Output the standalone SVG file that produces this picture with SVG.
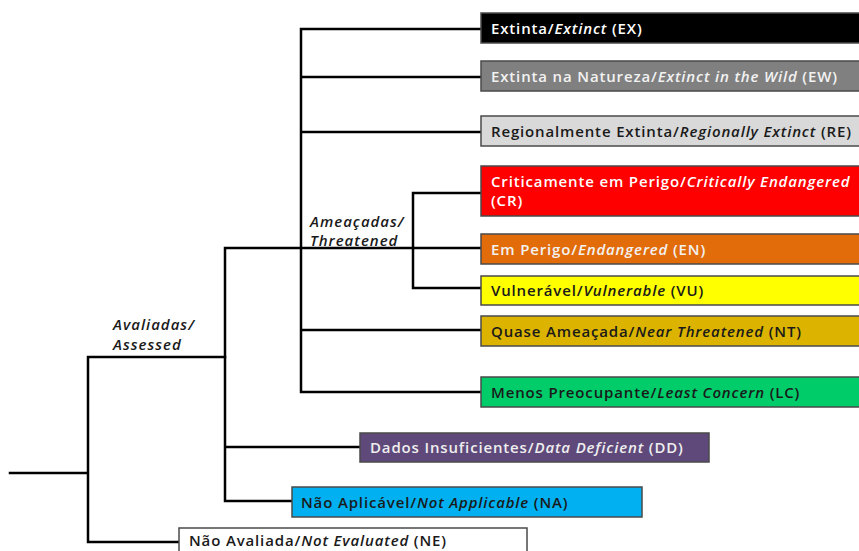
<svg xmlns="http://www.w3.org/2000/svg" width="859" height="551" viewBox="0 0 859 551">
<style>
  .ln { fill: none; stroke: #000; stroke-width: 2.5; stroke-linecap: square; }
  .box { stroke: #4a4a4a; stroke-width: 1.5; }
  .t { font-family: "Open Sans", "Liberation Sans", sans-serif; font-size: 15px; font-weight: 600; letter-spacing: 0.85px; }
  .i { font-style: italic; }
  .lbl { font-family: "Open Sans", "Liberation Sans", sans-serif; font-size: 15px; font-weight: 600; font-style: italic; letter-spacing: 1px; fill: #1a1a1a; }
</style>
<rect width="859" height="551" fill="#fff"/>
<g id="connectors">
  <path class="ln" d="M10,473 H88 M88,357 V542 M88,357 H225 M88,542 H179"/>
  <path class="ln" d="M225,248 V501 M225,248 H413 M225,447 H360 M225,501 H292"/>
  <path class="ln" d="M301,29 V392 M301,29 H481 M301,77 H481 M301,132 H481 M301,330 H481 M301,392 H481"/>
  <path class="ln" d="M413,193 V288 M413,193 H481 M413,248 H481 M413,288 H481"/>
</g>
<g id="label-threatened">
  <text class="lbl" x="310" y="227">Ameaçadas/</text>
  <text class="lbl" x="310" y="246">Threatened</text>
</g>
<g id="label-assessed">
  <text class="lbl" x="113" y="330">Avaliadas/</text>
  <text class="lbl" x="113" y="350">Assessed</text>
</g>
<g id="EX">
  <rect class="box" x="481" y="13" width="400" height="30" fill="#000"/>
  <text class="t" x="491" y="34" fill="#fff">Extinta/<tspan class="i">Extinct</tspan> (EX)</text>
</g>
<g id="EW">
  <rect class="box" x="481" y="61" width="400" height="30" fill="#808080"/>
  <text class="t" x="491" y="82" fill="#f2f2f2">Extinta na Natureza/<tspan class="i">Extinct in the Wild</tspan> (EW)</text>
</g>
<g id="RE">
  <rect class="box" x="481" y="116" width="400" height="30" fill="#d9d9d9"/>
  <text class="t" x="491" y="137" fill="#1a1a1a">Regionalmente Extinta/<tspan class="i">Regionally Extinct</tspan> (RE)</text>
</g>
<g id="CR">
  <rect class="box" x="481" y="166" width="400" height="50" fill="#ff0000"/>
  <text class="t" x="491" y="187" fill="#fff">Criticamente em Perigo/<tspan class="i">Critically Endangered</tspan></text>
  <text class="t" x="491" y="206" fill="#fff">(CR)</text>
</g>
<g id="EN">
  <rect class="box" x="481" y="234" width="400" height="30" fill="#e36c0a"/>
  <text class="t" x="491" y="255" fill="#f2f2f2">Em Perigo/<tspan class="i">Endangered</tspan> (EN)</text>
</g>
<g id="VU">
  <rect class="box" x="481" y="276" width="400" height="29" fill="#ffff00"/>
  <text class="t" x="491" y="296" fill="#1a1a1a">Vulnerável/<tspan class="i">Vulnerable</tspan> (VU)</text>
</g>
<g id="NT">
  <rect class="box" x="481" y="316" width="400" height="30" fill="#dcb400"/>
  <text class="t" x="491" y="337" fill="#1a1a1a">Quase Ameaçada/<tspan class="i">Near Threatened</tspan> (NT)</text>
</g>
<g id="LC">
  <rect class="box" x="481" y="377" width="400" height="30" fill="#00cc6a"/>
  <text class="t" x="491" y="398" fill="#1a1a1a">Menos Preocupante/<tspan class="i">Least Concern</tspan> (LC)</text>
</g>
<g id="DD">
  <rect class="box" x="360" y="433" width="349" height="29" fill="#5f497a"/>
  <text class="t" x="370" y="453" fill="#eeeeee">Dados Insuficientes/<tspan class="i">Data Deficient</tspan> (DD)</text>
</g>
<g id="NA">
  <rect class="box" x="292" y="487" width="350" height="30" fill="#00b0f0"/>
  <text class="t" x="301" y="508" fill="#1a1a1a">Não Aplicável/<tspan class="i">Not Applicable</tspan> (NA)</text>
</g>
<g id="NE">
  <rect class="box" x="179" y="528" width="348" height="30" fill="#fff"/>
  <text class="t" x="189" y="546" fill="#1a1a1a">Não Avaliada/<tspan class="i">Not Evaluated</tspan> (NE)</text>
</g>
</svg>
